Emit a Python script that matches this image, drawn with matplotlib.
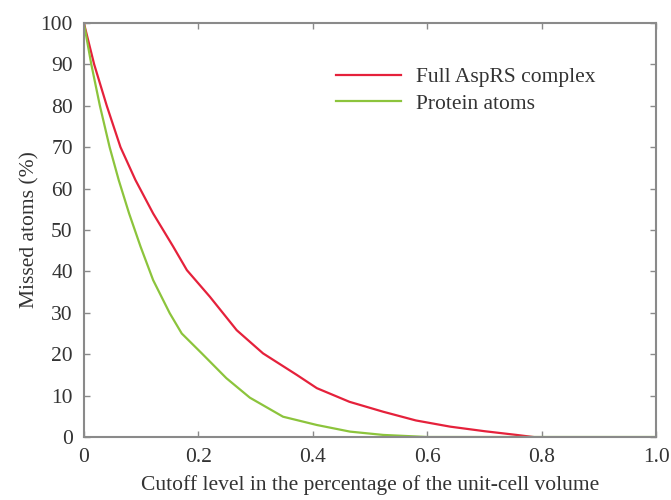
import matplotlib.pyplot as plt

# values
full_x = [0, 0.018, 0.040, 0.064, 0.090, 0.121, 0.156, 0.180, 0.220, 0.267,
          0.313, 0.372, 0.407, 0.464, 0.523, 0.580, 0.640, 0.700, 0.756, 0.785]
full_y = [100, 90, 80, 70, 62.1, 54.0, 46.0, 40.3, 33.9, 25.8,
          20.2, 15.0, 11.8, 8.5, 6.1, 4.0, 2.5, 1.4, 0.5, 0]

prot_x = [0, 0.013, 0.028, 0.045, 0.061, 0.079, 0.099, 0.121, 0.150, 0.171,
          0.206, 0.249, 0.290, 0.348, 0.407, 0.465, 0.523, 0.600, 1.0]
prot_y = [100, 90, 80, 70, 62.0, 54.0, 46.0, 37.9, 29.9, 25.0,
          20.2, 14.2, 9.5, 4.9, 2.9, 1.3, 0.5, 0, 0]

xticks = [0, 0.2, 0.4, 0.6, 0.8, 1.0]
xtick_labels = ['0', '0.2', '0.4', '0.6', '0.8', '1.0']
yticks = list(range(0, 101, 10))

plt.rcParams['font.family'] = ['Liberation Serif', 'DejaVu Serif']

fig = plt.figure(figsize=(6.71, 5), dpi=100)
ax = fig.add_axes([0.125, 0.126, 0.853, 0.828])

ax.plot(full_x, full_y, color='#e5213b', lw=1.6, solid_joinstyle='round',
        label='Full AspRS complex')
ax.plot(prot_x, prot_y, color='#8cc43c', lw=1.6, solid_joinstyle='round',
        label='Protein atoms')

ax.set_xlim(0, 1.0)
ax.set_ylim(0, 100)
ax.set_xticks(xticks)
ax.set_xticklabels(xtick_labels)
ax.set_yticks(yticks)

for s in ax.spines.values():
    s.set_color('#8a8a8a')
    s.set_linewidth(1.5)
ax.tick_params(direction='in', length=4, width=1, color='#8a8a8a',
               labelsize=15.5, labelcolor='#333333', pad=8,
               top=True, right=True)

ax.set_xlabel('Cutoff level in the percentage of the unit-cell volume',
              fontsize=15.5, color='#333333', labelpad=6)
ax.set_ylabel('Missed atoms (%)', fontsize=15.5, color='#333333', labelpad=1)

ax.legend(loc='upper left', bbox_to_anchor=(0.407, 0.94), frameon=False,
          fontsize=15.5, handlelength=3.0, labelspacing=0.3,
          handletextpad=0.7, labelcolor='#333333')

fig.savefig('out.png', dpi=100)
